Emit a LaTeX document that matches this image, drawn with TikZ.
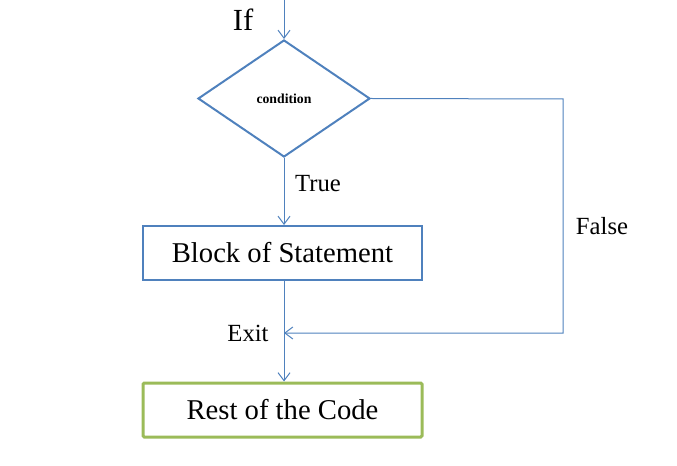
\documentclass[tikz,border=0pt]{standalone}
\usepackage{fontspec}
\setmainfont{Liberation Serif}
\usetikzlibrary{shapes.geometric,arrows.meta}
\definecolor{flowblue}{HTML}{4F81BD}
\definecolor{flowgreen}{HTML}{9BBB59}
\begin{document}
\begin{tikzpicture}[x=0.75pt,y=-0.75pt,
  conn/.style={draw=flowblue,line width=0.75pt,-{Straight Barb[length=6pt,width=9pt]}},
  decision/.style={diamond,draw=flowblue,line width=1.5pt,minimum width=129pt,minimum height=87.75pt,inner sep=0pt,font=\fontsize{10.3}{12}\selectfont\bfseries},
  blockbox/.style={rectangle,draw=flowblue,line width=1.5pt,minimum width=209.25pt,minimum height=40.5pt,inner sep=0pt,font=\fontsize{21.5}{25}\selectfont},
  restbox/.style={rectangle,draw=flowgreen,line width=2.25pt,rounded corners=1pt,minimum width=209.25pt,minimum height=40.5pt,inner sep=0pt,font=\fontsize{21.5}{25}\selectfont},
  lbl/.style={font=\fontsize{18.5}{21}\selectfont,inner sep=0pt},
  biglbl/.style={font=\fontsize{23}{27}\selectfont,inner sep=0pt}
]
\useasboundingbox (0,0) rectangle (677,466);
\coordinate (top) at (284,0);
\node[decision] (cond) at (284,98.5) {condition};
\node[blockbox] (block) at (282.5,253) {Block of Statement};
\node[restbox] (rest) at (282.5,410) {Rest of the Code};
\coordinate (fr) at (563,99);
\coordinate (fb) at (563,333);
\coordinate (exit) at (284,333);
\node[biglbl] (iflbl) at (243,20) {If};
\node[lbl] (truelbl) at (318,184) {True};
\node[lbl] (falselbl) at (602,226) {False};
\node[lbl] (exitlbl) at (248,333) {Exit};
\draw[conn] (top) -- (cond.north);
\draw[conn] (cond.south) -- (cond.south |- block.north);
\draw[conn] (cond.south |- block.south) -- (cond.south |- rest.north);
\draw[conn] (cond.east) -- (fr) -- (fb) -- (exit);
\end{tikzpicture}
\end{document}
